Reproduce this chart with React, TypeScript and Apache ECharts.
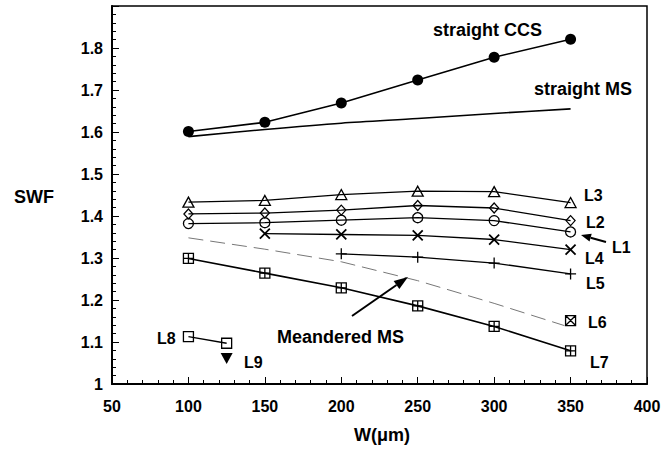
import React, { useEffect, useRef } from "react";
import * as echarts from "echarts";

const W = [100, 150, 200, 250, 300, 350];
const straightCCS = [1.601, 1.623, 1.669, 1.724, 1.778, 1.821];
const straightMS = [1.589, 1.606, 1.621, 1.632, 1.644, 1.655];
const L3 = [1.433, 1.437, 1.451, 1.459, 1.458, 1.432];
const L2 = [1.405, 1.407, 1.414, 1.425, 1.419, 1.389];
const L1 = [1.382, 1.384, 1.39, 1.396, 1.389, 1.362];
const W_L4 = [150, 200, 250, 300, 350];
const L4 = [1.358, 1.356, 1.354, 1.344, 1.32];
const W_L5 = [200, 250, 300, 350];
const L5 = [1.31, 1.302, 1.288, 1.262];
const W_meandered = [100, 150, 200, 250, 300, 346];
const meanderedMS = [1.348, 1.321, 1.291, 1.246, 1.192, 1.139];
const W_L6 = [350];
const L6 = [1.151];
const L7 = [1.299, 1.264, 1.229, 1.186, 1.137, 1.079];
const W_L8 = [100, 125];
const L8 = [1.113, 1.097];
const W_L9 = [125];
const L9 = [1.061];

const xTicks = [50, 100, 150, 200, 250, 300, 350, 400];
const yTicks = [1, 1.1, 1.2, 1.3, 1.4, 1.5, 1.6, 1.7, 1.8];

const FONT = "'Liberation Sans', Arial, Helvetica, sans-serif";

const pair = (xs: number[], ys: number[]) => xs.map((x, i) => [x, ys[i]]);

const SYM_X = "path://M0,0L10,10M10,0L0,10";
const SYM_PLUS = "path://M5,0L5,10M0,5L10,5";
const SYM_SQ_PLUS = "path://M0,0L10,0L10,10L0,10ZM5,0L5,10M0,5L10,5";
const SYM_SQ_X = "path://M0,0L10,0L10,10L0,10ZM0,0L10,10M10,0L0,10";
const SYM_SQ = "path://M0,0L10,0L10,10L0,10Z";

function lineSeries(name: string, data: number[][], symbol: string, size: number | number[], opts: any = {}) {
  return {
    name,
    type: "line",
    data,
    symbol,
    symbolSize: size,
    showSymbol: true,
    lineStyle: { color: "#000", width: 1.3 },
    itemStyle: { color: "rgba(0,0,0,0)", borderColor: "#000", borderWidth: 1.3 },
    emphasis: { disabled: true },
    z: 3,
    ...opts,
  };
}

function txt(text: string, x: number, y: number, size: number) {
  return {
    type: "text",
    style: {
      text,
      x,
      y,
      fill: "#000",
      font: `bold ${size}px ${FONT}`,
      verticalAlign: "middle",
      align: "left",
    },
    z: 10,
  };
}

function arrow(tail: number[], tip: number[], len: number, half: number) {
  const dx = tip[0] - tail[0];
  const dy = tip[1] - tail[1];
  const L = Math.hypot(dx, dy);
  const ux = dx / L;
  const uy = dy / L;
  const bx = tip[0] - len * ux;
  const by = tip[1] - len * uy;
  const px = -uy * half;
  const py = ux * half;
  return [
    {
      type: "line",
      shape: { x1: tail[0], y1: tail[1], x2: bx, y2: by },
      style: { stroke: "#000", lineWidth: 2 },
      z: 10,
    },
    {
      type: "polygon",
      shape: { points: [tip, [bx + px, by + py], [bx - px, by - py]] },
      style: { fill: "#000" },
      z: 10,
    },
  ];
}

export default function App() {
  const ref = useRef<HTMLDivElement>(null);

  useEffect(() => {
    if (!ref.current) return;
    const chart = echarts.init(ref.current, undefined, { renderer: "svg" });
    const option: any = {
      animation: false,
      backgroundColor: "#fff",
      grid: {
        left: 112,
        right: 21,
        top: 6,
        bottom: 65,
        show: true,
        borderColor: "#000",
        borderWidth: 1.5,
        backgroundColor: "transparent",
      },
      xAxis: {
        type: "value",
        min: xTicks[0],
        max: xTicks[xTicks.length - 1],
        interval: 50,
        axisLine: { show: true, lineStyle: { color: "#000", width: 2 } },
        axisTick: { show: true, inside: true, length: 7, lineStyle: { color: "#000", width: 1 } },
        minorTick: { show: true, splitNumber: 5, length: 4, lineStyle: { color: "#000", width: 1 } },
        splitLine: { show: false },
        axisLabel: {
          margin: 14,
          color: "#000",
          fontSize: 16,
          fontWeight: "bold",
          fontFamily: FONT,
          formatter: (v: number) => (xTicks.includes(v) ? String(v) : ""),
        },
      },
      yAxis: {
        type: "value",
        min: 1,
        max: 1.9,
        interval: 0.1,
        axisLine: { show: true, lineStyle: { color: "#000", width: 2 } },
        axisTick: { show: true, inside: true, length: 7, lineStyle: { color: "#000", width: 1 } },
        minorTick: { show: true, splitNumber: 5, length: 4, lineStyle: { color: "#000", width: 1 } },
        splitLine: { show: false },
        axisLabel: {
          margin: 9,
          color: "#000",
          fontSize: 16,
          fontWeight: "bold",
          fontFamily: FONT,
          formatter: (v: number) => {
            const r = Math.round(v * 10) / 10;
            const hit = yTicks.find((t) => Math.abs(t - r) < 1e-6);
            return hit !== undefined ? String(hit) : "";
          },
        },
      },
      series: [
        lineSeries("straight CCS", pair(W, straightCCS), "circle", 11, {
          itemStyle: { color: "#000", borderColor: "#000", borderWidth: 0 },
          lineStyle: { color: "#000", width: 1.6 },
        }),
        lineSeries("straight MS", pair(W, straightMS), "none", 0, {
          smooth: 0.3,
          showSymbol: false,
          lineStyle: { color: "#000", width: 1.6 },
        }),
        lineSeries("L3", pair(W, L3), "triangle", [11, 10]),
        lineSeries("L2", pair(W, L2), "diamond", [9, 10]),
        lineSeries("L1", pair(W, L1), "circle", 10),
        lineSeries("L4", pair(W_L4, L4), SYM_X, 10, { itemStyle: { color: "rgba(0,0,0,0)", borderColor: "#000", borderWidth: 1.8 } }),
        lineSeries("L5", pair(W_L5, L5), SYM_PLUS, 11),
        lineSeries("Meandered MS", pair(W_meandered, meanderedMS), "none", 0, {
          showSymbol: false,
          lineStyle: { color: "#777", width: 1, type: [15, 7] },
        }),
        lineSeries("L6", pair(W_L6, L6), SYM_SQ_X, 10),
        lineSeries("L7", pair(W, L7), SYM_SQ_PLUS, 10, { lineStyle: { color: "#000", width: 1.6 } }),
        lineSeries("L8", pair(W_L8, L8), SYM_SQ, 10),
        lineSeries("L9", pair(W_L9, L9), "triangle", [12, 11], {
          symbolRotate: 180,
          itemStyle: { color: "#000", borderColor: "#000", borderWidth: 0 },
        }),
      ],
      graphic: [
        txt("straight CCS", 433, 30, 18),
        txt("straight MS", 534, 89, 18),
        txt("L3", 584, 195, 16),
        txt("L2", 586, 222, 16),
        txt("L1", 612, 247, 16),
        txt("L4", 585, 258, 16),
        txt("L5", 586, 283, 16),
        txt("L6", 588, 322, 16),
        txt("L7", 590, 362, 16),
        txt("L8", 157, 338, 16),
        txt("L9", 244, 362, 16),
        txt("Meandered MS", 277, 337, 18),
        {
          type: "text",
          style: { text: "SWF", x: 34, y: 197, fill: "#000", font: `bold 18px ${FONT}`, align: "center", verticalAlign: "middle" },
        },
        {
          type: "text",
          style: { text: "W(\u03bcm)", x: 382, y: 435, fill: "#000", font: `bold 18px ${FONT}`, align: "center", verticalAlign: "middle" },
        },
        ...arrow([352, 316], [408, 277], 14, 5),
        ...arrow([606, 242], [581, 235], 10, 4),
      ],
    };
    chart.setOption(option);
    return () => chart.dispose();
  }, []);

  return (
    <div
      ref={ref}
      style={{ position: "absolute", left: 0, top: 0, width: 668, height: 449, background: "#fff" }}
    />
  );
}
